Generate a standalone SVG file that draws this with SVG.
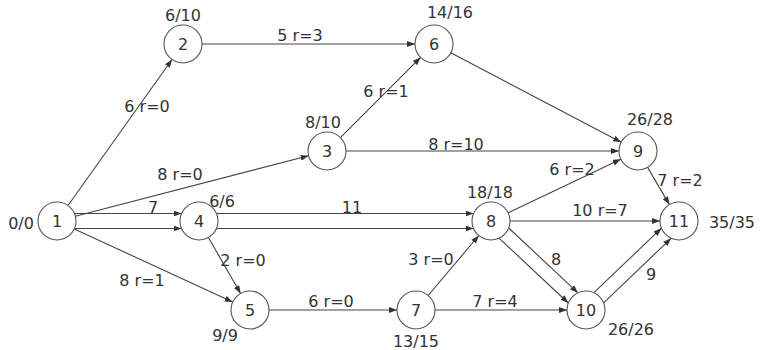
<svg xmlns="http://www.w3.org/2000/svg" width="763" height="350" viewBox="0 0 763 350">
<defs>
<marker id="arr" markerUnits="userSpaceOnUse" markerWidth="8" markerHeight="6" refX="8" refY="3" orient="auto">
<path d="M0,0 L8,3 L0,6 z" fill="#333"/>
</marker>
<style>
.e{stroke:#444;stroke-width:1.1;fill:none;marker-end:url(#arr)}
.n circle{fill:#fff;stroke:#555;stroke-width:1.1}
text{font-family:"DejaVu Sans","Liberation Sans",sans-serif;font-size:16px;fill:#333}
.n text{text-anchor:middle}
.c{text-anchor:middle}
</style>
</defs>
<rect width="763" height="350" fill="#fff"/>
<g id="connectors">
<line class="e" x1="68" y1="205.5" x2="172" y2="59.5"/>
<line class="e" x1="202" y1="44" x2="415" y2="44"/>
<line class="e" x1="75.4" y1="216.2" x2="308.6" y2="155.8"/>
<line class="e" x1="340.4" y1="137.6" x2="420.6" y2="57.4"/>
<line class="e" x1="450.8" y1="52.8" x2="621.2" y2="142.2"/>
<line class="e" x1="346" y1="151" x2="619" y2="151"/>
<line class="e" x1="508.2" y1="212.8" x2="620.8" y2="159.2"/>
<line class="e" x1="647.6" y1="167.4" x2="669.4" y2="204.6"/>
<line class="e" x1="510" y1="221" x2="660" y2="221"/>
<line class="e" x1="74.5" y1="213.5" x2="181.5" y2="213.5"/>
<line class="e" x1="74.5" y1="228.5" x2="181.5" y2="228.5"/>
<line class="e" x1="216.5" y1="213.5" x2="473.5" y2="213.5"/>
<line class="e" x1="216.5" y1="228.5" x2="473.5" y2="228.5"/>
<line class="e" x1="208.4" y1="237.5" x2="240.6" y2="293.5"/>
<line class="e" x1="74.3" y1="229" x2="232.7" y2="302"/>
<line class="e" x1="269" y1="310" x2="397" y2="310"/>
<line class="e" x1="428.2" y1="295.5" x2="478.8" y2="235.5"/>
<line class="e" x1="435" y1="310" x2="567" y2="310"/>
<line class="e" x1="499.1" y1="238.2" x2="568.3" y2="303"/>
<line class="e" x1="508.7" y1="228" x2="577.9" y2="292.8"/>
<line class="e" x1="603.6" y1="302.9" x2="671.1" y2="238.3"/>
<line class="e" x1="593.9" y1="292.7" x2="661.4" y2="228.2"/>
</g>
<g id="edge-labels">
<text class="c" x="147" y="112">6 r=0</text>
<text class="c" x="300" y="41">5 r=3</text>
<text class="c" x="180" y="180">8 r=0</text>
<text class="c" x="386" y="97">6 r=1</text>
<text class="c" x="456" y="150">8 r=10</text>
<text class="c" x="572" y="175">6 r=2</text>
<text class="c" x="680" y="186">7 r=2</text>
<text class="c" x="600" y="216">10 r=7</text>
<text class="c" x="153" y="213">7</text>
<text class="c" x="352" y="213">11</text>
<text class="c" x="243" y="266">2 r=0</text>
<text class="c" x="142" y="286">8 r=1</text>
<text class="c" x="431" y="265">3 r=0</text>
<text class="c" x="331" y="307">6 r=0</text>
<text class="c" x="495" y="307">7 r=4</text>
<text class="c" x="556" y="265">8</text>
<text class="c" x="651" y="280">9</text>
</g>
<g id="node-labels">
<text class="c" x="21" y="229">0/0</text>
<text class="c" x="183" y="21">6/10</text>
<text class="c" x="323" y="128">8/10</text>
<text class="c" x="222" y="207">6/6</text>
<text class="c" x="225" y="341">9/9</text>
<text class="c" x="450" y="18">14/16</text>
<text class="c" x="416" y="347">13/15</text>
<text class="c" x="490" y="198">18/18</text>
<text class="c" x="650" y="125">26/28</text>
<text class="c" x="631" y="335">26/26</text>
<text class="c" x="732" y="228">35/35</text>
</g>
<g id="node1" class="n"><circle cx="57" cy="221" r="19"/><text x="57" y="227">1</text></g>
<g id="node2" class="n"><circle cx="183" cy="44" r="19"/><text x="183" y="50">2</text></g>
<g id="node3" class="n"><circle cx="327" cy="151" r="19"/><text x="327" y="157">3</text></g>
<g id="node4" class="n"><circle cx="199" cy="221" r="19"/><text x="199" y="227">4</text></g>
<g id="node5" class="n"><circle cx="250" cy="310" r="19"/><text x="250" y="316">5</text></g>
<g id="node6" class="n"><circle cx="434" cy="44" r="19"/><text x="434" y="50">6</text></g>
<g id="node7" class="n"><circle cx="416" cy="310" r="19"/><text x="416" y="316">7</text></g>
<g id="node8" class="n"><circle cx="491" cy="221" r="19"/><text x="491" y="227">8</text></g>
<g id="node9" class="n"><circle cx="638" cy="151" r="19"/><text x="638" y="157">9</text></g>
<g id="node10" class="n"><circle cx="586" cy="310" r="19"/><text x="586" y="316">10</text></g>
<g id="node11" class="n"><circle cx="679" cy="221" r="19"/><text x="679" y="227">11</text></g>
</svg>
